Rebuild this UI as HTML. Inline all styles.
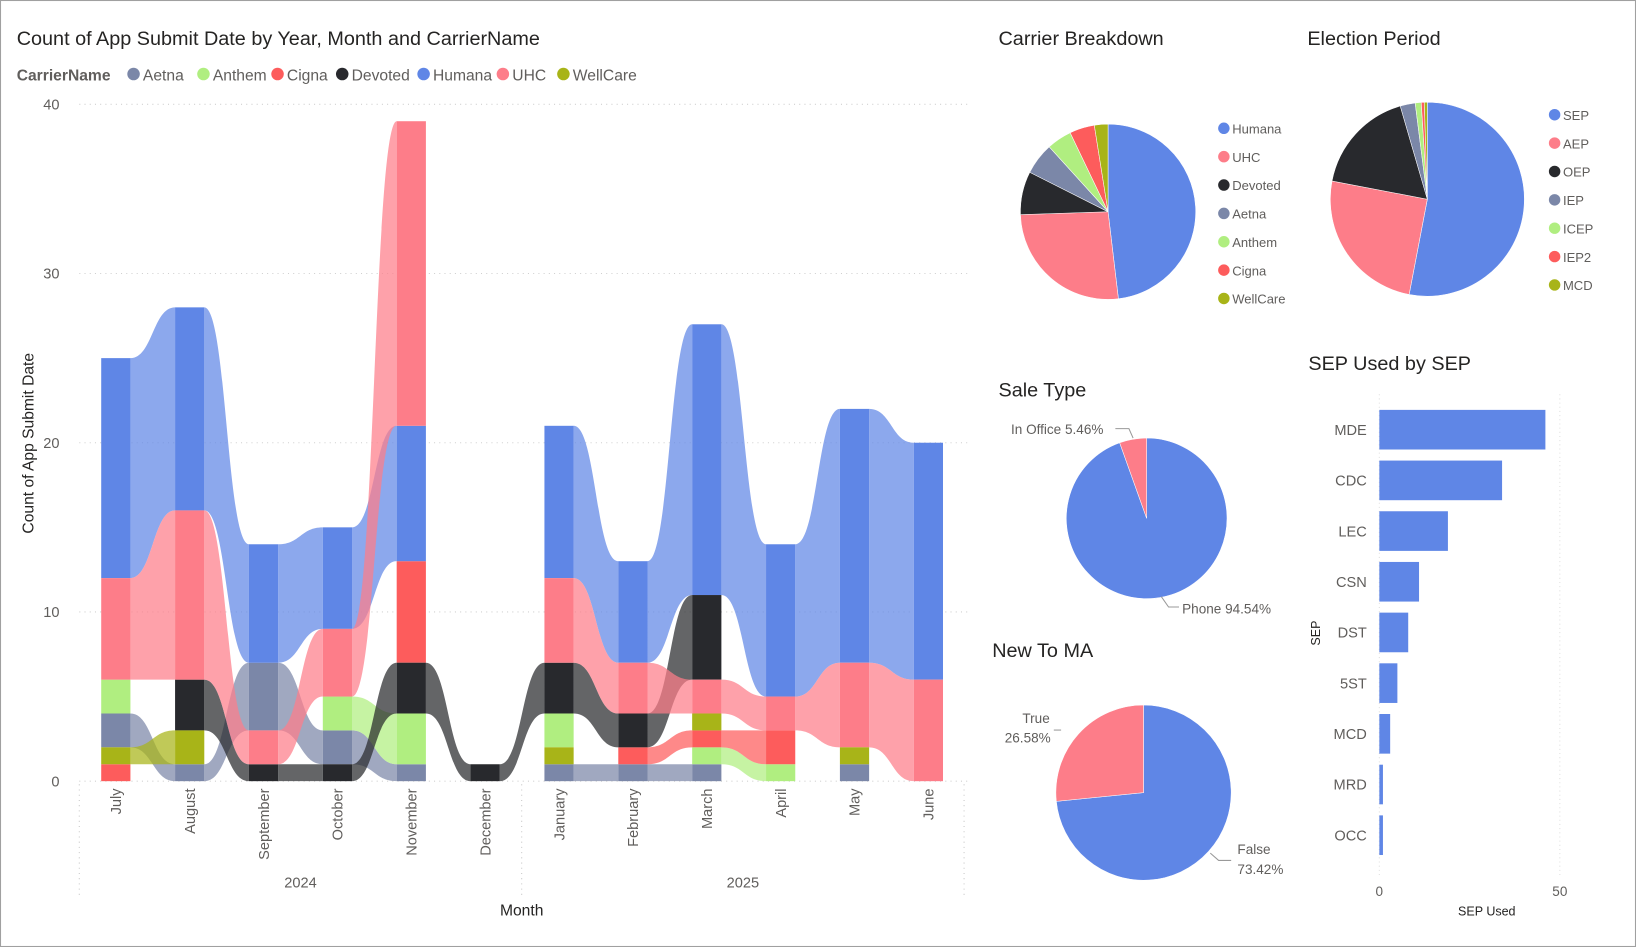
<!DOCTYPE html>
<html><head><meta charset="utf-8"><style>
html,body{margin:0;padding:0;background:#fff;}
svg{display:block;font-family:"Liberation Sans","DejaVu Sans",sans-serif;}
</style></head><body>
<svg id="root" width="1636" height="947" viewBox="0 0 1568 908" preserveAspectRatio="none" xmlns="http://www.w3.org/2000/svg">
<rect x="0.5" y="0.5" width="1567" height="907" fill="#fff" stroke="#a0a0a0"/>
<g id="ribbon">
<text x="16" y="43" font-size="19" fill="#252423">Count of App Submit Date by Year, Month and CarrierName</text>
<g id="legend"></g>
<g id="grid"></g><g id="ribbons"></g><g id="bars"></g><g id="xaxis"></g>
<text x="0" y="0" font-size="15" fill="#252423" transform="translate(32,425) rotate(-90)" text-anchor="middle">Count of App Submit Date</text>
<text x="500" y="878" font-size="15" fill="#252423" text-anchor="middle">Month</text>
</g>
<g>
<text x="957" y="43" font-size="19" fill="#252423">Carrier Breakdown</text>
<g id="pie1"></g></g>
<g>
<text x="1253" y="43" font-size="19" fill="#252423">Election Period</text>
<g id="pie2"></g></g>
<g>
<text x="957" y="380" font-size="19" fill="#252423">Sale Type</text>
<g id="pie3"></g>
<text x="969" y="416" font-size="13" fill="#605e5c">In Office 5.46%</text>
<path d="M1069,411 H1082 L1086,420" fill="none" stroke="#999"/>
<text x="1133" y="588" font-size="13" fill="#605e5c">Phone 94.54%</text>
<path d="M1113,572 L1120,582 H1130" fill="none" stroke="#999"/>
</g>
<g>
<text x="951" y="630" font-size="19" fill="#252423">New To MA</text>
<g id="pie4"></g>
<text x="993" y="693" font-size="13" fill="#605e5c" text-anchor="middle">True</text>
<text x="985" y="712" font-size="13" fill="#605e5c" text-anchor="middle">26.58%</text>
<path d="M1010,700 L1017,700" fill="none" stroke="#999"/>
<text x="1186" y="819" font-size="13" fill="#605e5c">False</text>
<text x="1186" y="838" font-size="13" fill="#605e5c">73.42%</text>
<path d="M1160,818 L1168,825 H1180" fill="none" stroke="#999"/>
</g>
<g>
<text x="1254" y="355" font-size="19" fill="#252423">SEP Used by SEP</text>
<g id="sepbars"></g>
<text x="0" y="0" font-size="12" fill="#252423" transform="translate(1265,607) rotate(-90)" text-anchor="middle">SEP</text>
<text x="1425" y="878" font-size="12" fill="#252423" text-anchor="middle">SEP Used</text>
</g>
</svg>
<script>
const carriers=["Aetna","Anthem","Cigna","Devoted","Humana","UHC","WellCare"];
const carrierColors=["#7B87A8","#B0EE80","#FD5C5C","#28292D","#5F86E6","#FD7D89","#A8B418"];
const months=["July","August","September","October","November","December","January","February","March","April","May","June"];
const aetna  =[2,1,4,2,1,0,1,1,1,0,1,0];
const anthem =[2,0,0,2,3,0,2,0,1,1,0,0];
const cigna  =[1,0,0,0,6,0,0,1,1,2,0,0];
const devoted=[0,3,1,1,3,1,3,2,5,0,0,0];
const humana =[13,12,7,6,8,0,9,6,16,9,15,14];
const uhc    =[6,10,2,4,18,0,5,3,2,2,5,6];
const wellcare=[1,2,0,0,0,0,1,0,1,0,1,0];
const yTicks=[0,10,20,30,40];
const series=[aetna,anthem,cigna,devoted,humana,uhc,wellcare];
const NS="http://www.w3.org/2000/svg";
function mk(tag,attrs,parent){const e=document.createElementNS(NS,tag);for(const k in attrs)e.setAttribute(k,attrs[k]);if(parent)parent.appendChild(e);return e;}
const y0=749,yTop=100,yMax=40;
const yS=v=>y0-(v/yMax)*(y0-yTop);
const xS=i=>111+i*70.8;
const bw=28;
const lg=document.getElementById('legend');
let t=mk('text',{x:16,y:77,'font-size':15,'font-weight':'bold',fill:'#605e5c'},lg);t.textContent='CarrierName';


let lx=128;
const lws=[53,57,48,64,62,44,70];
carriers.forEach((c,i)=>{const g=mk('g',{},lg);


mk('circle',{cx:lx,cy:71,r:6,fill:carrierColors[i]},g);
const tt=mk('text',{x:lx+9,y:77,'font-size':15,fill:'#605e5c'},g);tt.textContent=c;lx+=lws[i]+14;});
const gr=document.getElementById('grid');
yTicks.forEach(v=>{mk('line',{x1:76,x2:928,y1:yS(v),y2:yS(v),stroke:'#d0d0d0','stroke-dasharray':'1 4'},gr);
const tx=mk('text',{x:57,y:yS(v)+5,'font-size':14,fill:'#605e5c','text-anchor':'end'},gr);tx.textContent=v;

});
const stacks=months.map((m,mi)=>{const items=series.map((s,ci)=>({ci,v:s[mi]})).filter(o=>o.v>0).sort((a,b)=>a.v-b.v||a.ci-b.ci);let acc=0;const r={};items.forEach(o=>{r[o.ci]={lo:acc,hi:acc+o.v};acc+=o.v;});return r;});
const rb=document.getElementById('ribbons'),br=document.getElementById('bars');
for(let mi=0;mi<months.length-1;mi++){for(let ci=0;ci<carriers.length;ci++){const a=stacks[mi][ci],b=stacks[mi+1][ci];if(!a||!b)continue;
const xa=xS(mi)+bw/2,xb=xS(mi+1)-bw/2,xm=(xa+xb)/2;
const d=`M${xa},${yS(a.hi)} C${xm},${yS(a.hi)} ${xm},${yS(b.hi)} ${xb},${yS(b.hi)} L${xb},${yS(b.lo)} C${xm},${yS(b.lo)} ${xm},${yS(a.lo)} ${xa},${yS(a.lo)} Z`;
const p=mk('path',{d,fill:carrierColors[ci],opacity:0.72},rb);

}}
months.forEach((m,mi)=>{for(const ci in stacks[mi]){const s=stacks[mi][ci];
const r=mk('rect',{x:xS(mi)-bw/2,y:yS(s.hi),width:bw,height:yS(s.lo)-yS(s.hi),fill:carrierColors[ci]},br);

}});
const xa=document.getElementById('xaxis');
months.forEach((m,mi)=>{const tx=mk('text',{'font-size':14,fill:'#605e5c','text-anchor':'end',transform:`translate(${xS(mi)+5},756) rotate(-90)`},xa);tx.textContent=m;

});
[76,500,924].forEach(x=>mk('line',{x1:x,x2:x,y1:752,y2:858,stroke:'#c8c8c8','stroke-dasharray':'1 4'},xa));
[["2024",288],["2025",712]].forEach(([y,x])=>{const tx=mk('text',{x,y:851,'font-size':14,fill:'#605e5c','text-anchor':'middle'},xa);tx.textContent=y;

});
function pie(id,cx,cy,r,labels,vals,cols,legend){const g=document.getElementById(id);const tot=vals.reduce((a,b)=>a+b,0);let a0=0;
vals.forEach((v,i)=>{const a1=a0+v/tot*2*Math.PI;const p0=[cx+r*Math.sin(a0),cy-r*Math.cos(a0)],p1=[cx+r*Math.sin(a1),cy-r*Math.cos(a1)];
const p=mk('path',{d:`M${cx},${cy} L${p0[0]},${p0[1]} A${r},${r} 0 ${a1-a0>Math.PI?1:0} 1 ${p1[0]},${p1[1]} Z`,fill:cols[i],stroke:'#fff','stroke-width':0.5},g);

a0=a1;});
if(legend){labels.forEach((l,i)=>{const lg=mk('g',{},g);


mk('circle',{cx:legend.x,cy:legend.y+i*legend.dy,r:5.5,fill:cols[i]},lg);
const tx=mk('text',{x:legend.x+8,y:legend.y+i*legend.dy+5,'font-size':12.5,fill:'#605e5c'},lg);tx.textContent=l;});}}
const pie1Labels=["Humana","UHC","Devoted","Aetna","Anthem","Cigna","WellCare"];
const pie1Vals=[115,63,19,14,11,11,6];
pie('pie1',1062,203,84,pie1Labels,pie1Vals,["#5F86E6","#FD7D89","#28292D","#7B87A8","#B0EE80","#FD5C5C","#A8B418"],{x:1173,y:123,dy:27.2});
const pie2Labels=["SEP","AEP","OEP","IEP","ICEP","IEP2","MCD"];
const pie2Vals=[53,25,17.5,2.5,1,0.5,0.5];
pie('pie2',1368,191,93,pie2Labels,pie2Vals,["#5F86E6","#FD7D89","#28292D","#7B87A8","#B0EE80","#FD5C5C","#A8B418"],{x:1490,y:110,dy:27.2});
const pie3Labels=["Phone","In Office"];
const pie3Vals=[94.54,5.46];
pie('pie3',1099,497,77,pie3Labels,pie3Vals,["#5F86E6","#FD7D89"],null);
const pie4Labels=["False","True"];
const pie4Vals=[73.42,26.58];
pie('pie4',1096,760,84,pie4Labels,pie4Vals,["#5F86E6","#FD7D89"],null);
const sepCats=["MDE","CDC","LEC","CSN","DST","5ST","MCD","MRD","OCC"];
const sepVals=[46,34,19,11,8,5,3,1,1];
const sepTicks=[0,50];
const sg=document.getElementById('sepbars');
const sx=v=>1322+v*(1495-1322)/50;
mk('line',{x1:1322,x2:1322,y1:378,y2:842,stroke:'#e0e0e0','stroke-dasharray':'1 3'},sg);
mk('line',{x1:1495,x2:1495,y1:378,y2:842,stroke:'#e0e0e0','stroke-dasharray':'1 3'},sg);
sepTicks.forEach(v=>{const tx=mk('text',{x:sx(v),y:859,'font-size':13,fill:'#605e5c','text-anchor':'middle'},sg);tx.textContent=v;

});
sepCats.forEach((c,i)=>{const cy=412+i*48.6;
const r=mk('rect',{x:1322,y:cy-19,width:sx(sepVals[i])-1322,height:38,fill:'#5F86E6'},sg);


const tx=mk('text',{x:1310,y:cy+5,'font-size':14,fill:'#605e5c','text-anchor':'end'},sg);tx.textContent=c;

});
</script>
</body></html>
